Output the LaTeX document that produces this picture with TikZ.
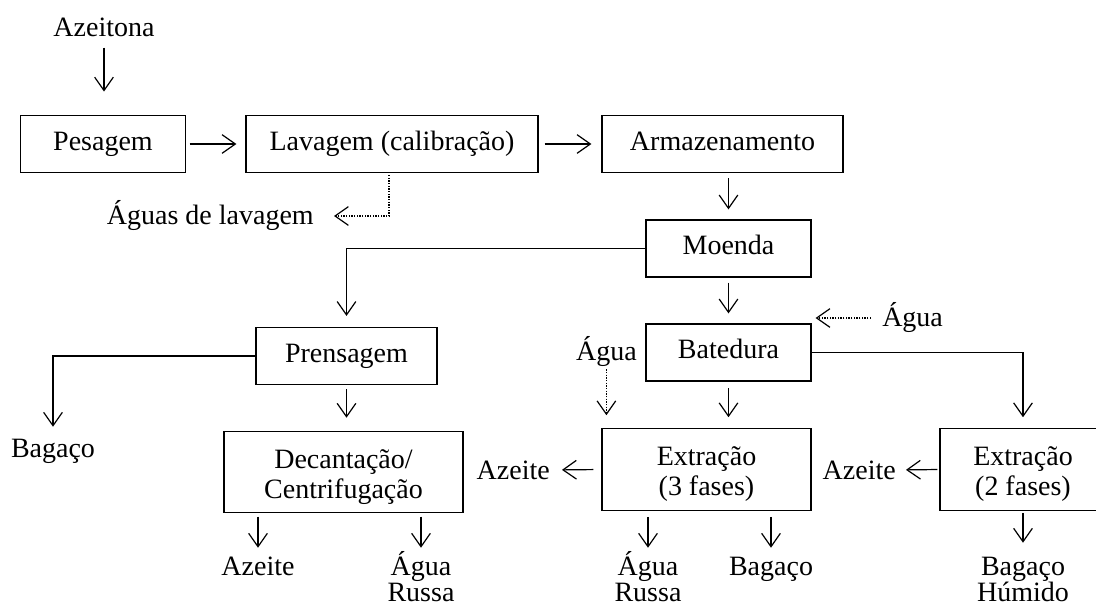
\documentclass[tikz,border=0pt]{standalone}
\usepackage{fontspec}
\setmainfont{Liberation Serif}
\usetikzlibrary{arrows.meta,positioning}
\newcommand{\duas}[2]{\vtop{\halign{\hfil##\hfil\cr #1\cr #2\cr}}}

\begin{document}
\begin{tikzpicture}[x=0.75pt,y=-0.75pt]
\tikzset{every node/.style={font=\fontsize{21pt}{22.5pt}\selectfont}}
\tikzset{etapa/.style={draw,line width=0.9pt,inner sep=0pt,minimum height=42.75pt,text height=14pt,text depth=4.5pt}}
\tikzset{etapa2/.style={etapa,minimum height=61pt,text height=21pt,text depth=27pt}}
\tikzset{txt/.style={inner sep=0pt}}
\tikzset{lbl/.style={txt,text height=14pt,anchor=base,font=\fontsize{21pt}{20pt}\selectfont}}
\tikzset{seta/.style={line width=0.9pt,-{Straight Barb[length=10pt,width=14pt]}}}
\tikzset{agua/.style={seta,dash pattern=on 1pt off 1pt}}
\clip (0,0) rectangle (1096,610);
\node[lbl] (azt) at (104,37) {Azeitona};
\node[etapa,minimum width=123.75pt] (pes) at (103,144) {Pesagem};
\node[etapa,minimum width=219pt] (lav) at (392,144) {Lavagem (calibração)};
\node[etapa,minimum width=180.75pt] (arm) at (722.5,144) {Armazenamento};
\node[etapa,minimum width=123.75pt] (moe) at (728.5,248.5) {Moenda};
\node[etapa,minimum width=135.75pt] (pre) at (346.5,356) {Prensagem};
\node[etapa,minimum width=123.75pt] (bat) at (728.5,352.5) {Batedura};
\node[etapa2,minimum width=179.25pt] (dec) at (343.5,472) {\duas{Decantação/}{Centrifugação}};
\node[etapa2,minimum width=156.75pt] (ex3) at (706.5,469.5) {\duas{Extração}{(3 fases)}};
\node[etapa2,minimum width=124.5pt] (ex2) at (1023,469.5) {\duas{Extração}{(2 fases)}};
\node[txt,anchor=east] (agl) at (314,216) {Águas de lavagem};
\node[txt,anchor=west] (aw1) at (882,318) {Água};
\node[txt,anchor=east] (aw2) at (637,352) {Água};
\node[txt,anchor=east] (aze3) at (550,470) {Azeite};
\node[txt,anchor=east] (aze2) at (896,470) {Azeite};
\node[lbl] (bgp) at (53,457) {Bagaço};
\node[lbl] (azd) at (258,575) {Azeite};
\node[lbl] (ard) at (421,575) {\duas{Água}{Russa}};
\node[lbl] (ar3) at (648,575) {\duas{Água}{Russa}};
\node[lbl] (bg3) at (771,575) {Bagaço};
\node[lbl] (bgh) at (1023,575) {\duas{Bagaço}{Húmido}};
\draw[seta,shorten <=7.5pt,shorten >=17.5pt] (azt.south) -- (azt.south |- pes.north);
\draw[seta,shorten <=2.6pt,shorten >=6.75pt] (pes) -- (lav);
\draw[seta,shorten <=4.5pt,shorten >=7.5pt] (lav) -- (arm);
\draw[seta,shorten <=4pt,shorten >=7.5pt] (arm.south -| moe.north) -- (moe.north);
\draw[seta,shorten <=3.75pt,shorten >=7.5pt] (moe) -- (bat);
\draw[seta,shorten >=8.25pt] (moe.west) -| (pre.north);
\draw[seta,shorten >=8.5pt] (pre.west) -| (bgp.north);
\draw[seta,shorten <=3pt,shorten >=9.75pt] (pre.south) -- (pre.south |- dec.north);
\draw[seta,shorten <=5pt,shorten >=8.25pt] (bat.south) -- (bat.south |- ex3.north);
\draw[seta,shorten >=8.25pt] (bat.east) -| (ex2.north);
\draw[seta,shorten <=2.5pt,shorten >=6.25pt] (dec.south -| azd.north) -- (azd.north);
\draw[seta,shorten <=2.5pt,shorten >=6.25pt] (dec.south -| ard.north) -- (ard.north);
\draw[seta,shorten <=4.5pt,shorten >=6.25pt] (ex3.south -| ar3.north) -- (ar3.north);
\draw[seta,shorten <=4.5pt,shorten >=6.25pt] (ex3.south -| bg3.north) -- (bg3.north);
\draw[seta,shorten <=1.5pt,shorten >=10pt] (ex2.south -| bgh.north) -- (bgh.north);
\draw[seta,shorten <=6pt,shorten >=9pt] (ex3.west) -- (aze3.east);
\draw[seta,shorten <=1.5pt,shorten >=7.5pt] (ex2.west) -- (aze2.east);
\draw[agua,shorten <=1.5pt,shorten >=15pt] ([xshift=-2.25pt]lav.south) |- (agl.east);
\draw[agua,shorten <=8.25pt,shorten >=3pt] (aw1.west) -- (aw1.west -| bat.east);
\draw[agua,shorten <=1.5pt,shorten >=9.75pt] (aw2.south) -- (aw2.south |- ex3.north);
\end{tikzpicture}
\end{document}
